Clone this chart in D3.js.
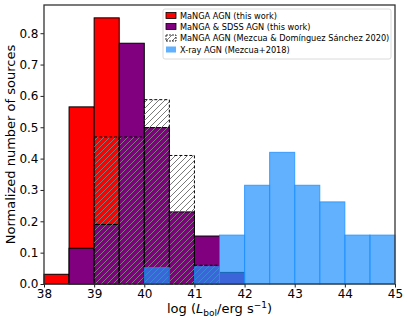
<!DOCTYPE html>
<html>
<head>
<meta charset="utf-8">
<script src="https://cdn.jsdelivr.net/npm/d3@7"></script>
<style>
  body { margin: 0; background: #fff; }
  text { font-family: "DejaVu Sans", sans-serif; }
</style>
</head>
<body>
<div id="chart"></div>
<script>
// bin starts, each bin 0.5 dex wide
var binStarts = [38, 38.5, 39, 39.5, 40, 40.5, 41, 41.5, 42, 42.5, 43, 43.5, 44, 44.5];
var binWidth = 0.5;

var mangaAGN    = [0.031, 0.565, 0.849, 0, 0, 0, 0, 0, 0, 0, 0, 0, 0, 0];
var mangaSDSS   = [0, 0.114, 0.190, 0.768, 0.499, 0.230, 0.153, 0.037, 0, 0, 0, 0, 0, 0];
var mezcua2020  = [0, 0, 0.469, 0.469, 0.588, 0.410, 0.060, 0, 0, 0, 0, 0, 0, 0];
var xrayAGN     = [0, 0, 0, 0, 0.052, 0, 0.055, 0.156, 0.315, 0.420, 0.315, 0.262, 0.156, 0.156];

var xTicks = [38, 39, 40, 41, 42, 43, 44, 45];
var yTicks = [0.0, 0.1, 0.2, 0.3, 0.4, 0.5, 0.6, 0.7, 0.8];

var legendLabels = [
  "MaNGA AGN (this work)",
  "MaNGA & SDSS AGN (this work)",
  "MaNGA AGN (Mezcua & Domínguez Sánchez 2020)",
  "X-ray AGN (Mezcua+2018)"
];

var margin = {left: 44, top: 5, right: 12, bottom: 40},
    W = 407, H = 324,
    width = W - margin.left - margin.right,
    height = H - margin.top - margin.bottom;

var svg = d3.select("#chart").append("svg")
    .attr("width", W)
    .attr("height", H);

var defs = svg.append("defs");
defs.append("pattern")
    .attr("id", "hatch")
    .attr("patternUnits", "userSpaceOnUse")
    .attr("width", 6).attr("height", 6)
  .append("path")
    .attr("d", "M-1,1 l2,-2 M0,6 l6,-6 M5,7 l2,-2")
    .attr("stroke", "#7a7a7a")
    .attr("stroke-width", 1);

var x = d3.scaleLinear().domain([38, 45]).range([0, width]);
var y = d3.scaleLinear().domain([0, 0.89]).range([height, 0]);

var g = svg.append("g")
    .attr("transform", "translate(" + margin.left + "," + margin.top + ")");

function bars (values, cls) {
  var rows = binStarts.map(function (b, i) { return {x0: b, v: values[i]}; })
    .filter(function (d) { return d.v > 0; });
  return g.selectAll("." + cls)
    .data(rows)
    .enter().append("rect")
      .attr("class", cls)
      .attr("x", function (d) { return x(d.x0); })
      .attr("width", function (d) { return x(d.x0 + binWidth) - x(d.x0); })
      .attr("y", function (d) { return y(d.v); })
      .attr("height", function (d) { return y(0) - y(d.v); });
}

bars(mangaAGN, "red").attr("fill", "#ff0000").attr("stroke", "#000").attr("stroke-width", 1);
bars(mangaSDSS, "purple").attr("fill", "#800080").attr("stroke", "#000").attr("stroke-width", 1);
bars(mezcua2020, "hatched").attr("fill", "url(#hatch)").attr("stroke", "#000")
    .attr("stroke-width", 1).attr("stroke-dasharray", "3,2");
bars(xrayAGN, "xray").attr("fill", "#1e90ff").attr("fill-opacity", 0.7)
    .attr("stroke", "#1e90ff").attr("stroke-opacity", 0.8).attr("stroke-width", 1);

// axes
var xAxis = d3.axisBottom(x).tickValues(xTicks).tickSize(3.5).tickPadding(2).tickFormat(d3.format("d"));
var yAxis = d3.axisLeft(y).tickValues(yTicks).tickSize(3.5).tickPadding(2).tickFormat(d3.format(".1f"));

g.append("g")
    .attr("transform", "translate(0," + height + ")")
    .call(xAxis)
    .call(function (s) { s.select(".domain").remove(); })
    .selectAll("text").attr("font-size", 12).attr("fill", "#000")
    .attr("font-family", "DejaVu Sans");

g.append("g")
    .call(yAxis)
    .call(function (s) { s.select(".domain").remove(); })
    .selectAll("text").attr("font-size", 12).attr("fill", "#000")
    .attr("font-family", "DejaVu Sans");

g.selectAll(".tick line").attr("stroke", "#222");

g.append("rect")
    .attr("width", width).attr("height", height)
    .attr("fill", "none").attr("stroke", "#333").attr("stroke-width", 1.3);

// axis labels
var xl = svg.append("text")
    .attr("x", margin.left + width / 2)
    .attr("y", 313)
    .attr("text-anchor", "middle")
    .attr("font-size", 13);
xl.append("tspan").text("log (");
xl.append("tspan").attr("font-style", "italic").text("L");
xl.append("tspan").attr("font-size", 9).attr("dy", 3).text("bol");
xl.append("tspan").attr("dy", -3).text("/erg s");
xl.append("tspan").attr("font-size", 9).attr("dy", -5).text("−1");
xl.append("tspan").attr("dy", 5).text(")");

svg.append("text")
    .attr("transform", "translate(15," + (margin.top + height / 2) + ") rotate(-90)")
    .attr("text-anchor", "middle")
    .attr("font-size", 13)
    .text("Normalized number of sources");

// legend
var lg = svg.append("g").attr("transform", "translate(163,9)");
lg.append("rect")
    .attr("width", 228).attr("height", 50).attr("rx", 2)
    .attr("fill", "#fff").attr("fill-opacity", 0.8)
    .attr("stroke", "#d0d0d0").attr("stroke-width", 0.8);

var handleStyles = [
  {fill: "#ff0000", stroke: "#000", dash: null, op: 1},
  {fill: "#800080", stroke: "#000", dash: null, op: 1},
  {fill: "url(#hatch)", stroke: "#000", dash: "2,1", op: 1},
  {fill: "#1e90ff", stroke: "none", dash: null, op: 0.7}
];
var rowY = [6.5, 17.5, 29, 40.5];

var items = lg.selectAll(".item")
    .data(legendLabels)
    .enter().append("g")
      .attr("transform", function (d, i) { return "translate(0," + rowY[i] + ")"; });

items.append("rect")
    .attr("x", 3).attr("y", -3).attr("width", 10).attr("height", 6)
    .attr("fill", function (d, i) { return handleStyles[i].fill; })
    .attr("fill-opacity", function (d, i) { return handleStyles[i].op; })
    .attr("stroke", function (d, i) { return handleStyles[i].stroke; })
    .attr("stroke-dasharray", function (d, i) { return handleStyles[i].dash; })
    .attr("stroke-width", 0.8);

items.append("text")
    .attr("x", 17).attr("y", 3)
    .attr("font-size", 8.2)
    .text(function (d) { return d; });
</script>
</body>
</html>
